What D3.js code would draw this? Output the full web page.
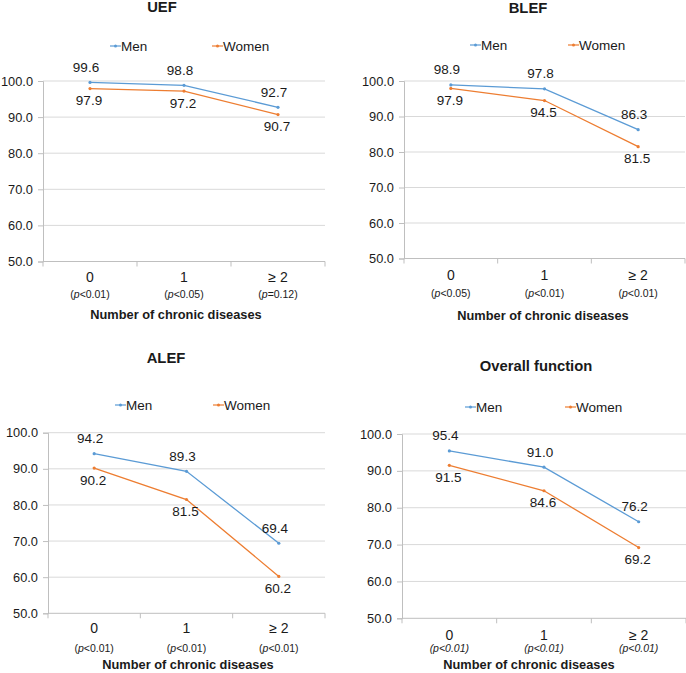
<!DOCTYPE html>
<html>
<head>
<meta charset="utf-8">
<script src="https://cdn.jsdelivr.net/npm/d3@7"></script>
<style>
  html, body { margin: 0; padding: 0; background: #fff; }
  svg { display: block; font-family: "Liberation Sans", Arial, sans-serif; }
</style>
</head>
<body>
<svg id="chart" width="686" height="673"></svg>
<script>
// ---------------- data ----------------
const categories = ["0", "1", "\u2265 2"];
const seriesNames = ["Men", "Women"];
const panelTitles = ["UEF", "BLEF", "ALEF", "Overall function"];
const menValues = [
  [99.6, 98.8, 92.7],
  [98.9, 97.8, 86.3],
  [94.2, 89.3, 69.4],
  [95.4, 91.0, 76.2]
];
const womenValues = [
  [97.9, 97.2, 90.7],
  [97.9, 94.5, 81.5],
  [90.2, 81.5, 60.2],
  [91.5, 84.6, 69.2]
];
const pLabels = [
  ["<0.01", "<0.05", "=0.12"],
  ["<0.05", "<0.01", "<0.01"],
  ["<0.01", "<0.01", "<0.01"],
  ["<0.01", "<0.01", "<0.01"]
];
const yTicks = [50, 60, 70, 80, 90, 100];
const xAxisTitle = "Number of chronic diseases";

// ---------------- layout (positions/styles only) ----------------
const colors = { Men: "#5B9BD5", Women: "#ED7D31" };
const layout = [
  { x0: 43,  x1: 325, yTop: 81,    yBot: 261.5, titleX: 162, titleY: 12,  legY: 46,  legX: [110, 212], catY: 282, pY: 298, axTX: 176, axTY: 319, allItalic: false },
  { x0: 404, x1: 685, yTop: 81,    yBot: 258.5, titleX: 528, titleY: 13,  legY: 45,  legX: [470, 568], catY: 280, pY: 297, axTX: 543, axTY: 320, allItalic: false },
  { x0: 48,  x1: 325, yTop: 432.7, yBot: 613.3, titleX: 166, titleY: 363, legY: 405, legX: [115, 213], catY: 633, pY: 652, axTX: 188, axTY: 669, allItalic: false },
  { x0: 402, x1: 686, yTop: 434,   yBot: 618.3, titleX: 536, titleY: 371, legY: 407, legX: [465, 565], catY: 640, pY: 652, axTX: 529, axTY: 669, allItalic: true }
];

const svg = d3.select("#chart");
const textColor = "#1a1a1a";

panelTitles.forEach((title, i) => {
  const L = layout[i];
  const g = svg.append("g");

  const x = d3.scaleBand().domain(categories).range([L.x0, L.x1]).padding(0);
  const y = d3.scaleLinear().domain([50, 100]).range([L.yBot, L.yTop]);

  // gridlines
  g.append("g").selectAll("line").data(yTicks.filter(t => t > 50)).join("line")
    .attr("x1", L.x0).attr("x2", L.x1)
    .attr("y1", d => y(d)).attr("y2", d => y(d))
    .attr("stroke", "#d9d9d9").attr("stroke-width", 1);

  // y axis
  const yAxis = d3.axisLeft(y).tickValues(yTicks).tickFormat(d3.format(".1f")).tickSize(5).tickPadding(5);
  const ya = g.append("g").attr("transform", `translate(${L.x0},0)`).call(yAxis);
  ya.select(".domain").attr("stroke", "#bfbfbf");
  ya.selectAll(".tick line").attr("stroke", "#bfbfbf");
  ya.selectAll(".tick text").attr("fill", textColor).style("font-size", "12.8px")
    .style("font-family", "'Liberation Sans', Arial, sans-serif");

  // x axis (band boundaries ticks)
  const bounds = categories.map(c => x(c)).concat([L.x1]);
  g.append("line").attr("x1", L.x0).attr("x2", L.x1).attr("y1", L.yBot).attr("y2", L.yBot)
    .attr("stroke", "#bfbfbf");
  g.append("g").selectAll("line").data(bounds).join("line")
    .attr("x1", d => d).attr("x2", d => d)
    .attr("y1", L.yBot).attr("y2", L.yBot + 5)
    .attr("stroke", "#bfbfbf");

  // category labels
  g.append("g").selectAll("text").data(categories).join("text")
    .attr("x", d => x(d) + x.bandwidth() / 2).attr("y", L.catY)
    .attr("text-anchor", "middle").attr("fill", textColor).style("font-size", "14px")
    .text(d => d);

  // p labels
  const pg = g.append("g");
  categories.forEach((c, j) => {
    const t = pg.append("text")
      .attr("x", x(c) + x.bandwidth() / 2).attr("y", L.pY)
      .attr("text-anchor", "middle").attr("fill", textColor).style("font-size", "10.5px");
    if (L.allItalic) {
      t.style("font-style", "italic").text("(p" + pLabels[i][j] + ")");
    } else {
      t.append("tspan").text("(");
      t.append("tspan").style("font-style", "italic").text("p");
      t.append("tspan").text(pLabels[i][j] + ")");
    }
  });

  // axis title
  g.append("text").attr("x", L.axTX).attr("y", L.axTY).attr("text-anchor", "middle")
    .attr("fill", textColor).style("font-size", "12.8px").style("font-weight", "bold")
    .text(xAxisTitle);

  // chart title
  g.append("text").attr("x", L.titleX).attr("y", L.titleY).attr("text-anchor", "middle")
    .attr("fill", textColor).style("font-size", "14.8px").style("font-weight", "bold")
    .text(title);

  // legend
  seriesNames.forEach((s, k) => {
    const lx = L.legX[k];
    g.append("line").attr("x1", lx).attr("x2", lx + 11).attr("y1", L.legY).attr("y2", L.legY)
      .attr("stroke", colors[s]).attr("stroke-width", 1.2);
    g.append("circle").attr("cx", lx + 5.5).attr("cy", L.legY).attr("r", 1.5).attr("fill", colors[s]);
    g.append("text").attr("x", lx + 11).attr("y", L.legY + 4.8).attr("fill", textColor)
      .style("font-size", "13.5px").text(s);
  });

  // series
  const seriesData = [
    { name: "Men", values: menValues[i] },
    { name: "Women", values: womenValues[i] }
  ];
  const line = d3.line().x((d, j) => x(categories[j]) + x.bandwidth() / 2).y(d => y(d));
  seriesData.forEach(sd => {
    g.append("path").datum(sd.values).attr("d", line)
      .attr("fill", "none").attr("stroke", colors[sd.name]).attr("stroke-width", 1.3);
    g.append("g").selectAll("circle").data(sd.values).join("circle")
      .attr("cx", (d, j) => x(categories[j]) + x.bandwidth() / 2).attr("cy", d => y(d))
      .attr("r", 1.6).attr("fill", colors[sd.name]);
    const isMen = sd.name === "Men";
    g.append("g").selectAll("text").data(sd.values).join("text")
      .attr("x", (d, j) => x(categories[j]) + x.bandwidth() / 2 + (isMen ? -4 : -1))
      .attr("y", d => y(d) + (isMen ? -10.5 : 16.5))
      .attr("text-anchor", "middle").attr("fill", textColor).style("font-size", "13.5px")
      .text(d => d3.format(".1f")(d));
  });
});
</script>
</body>
</html>
